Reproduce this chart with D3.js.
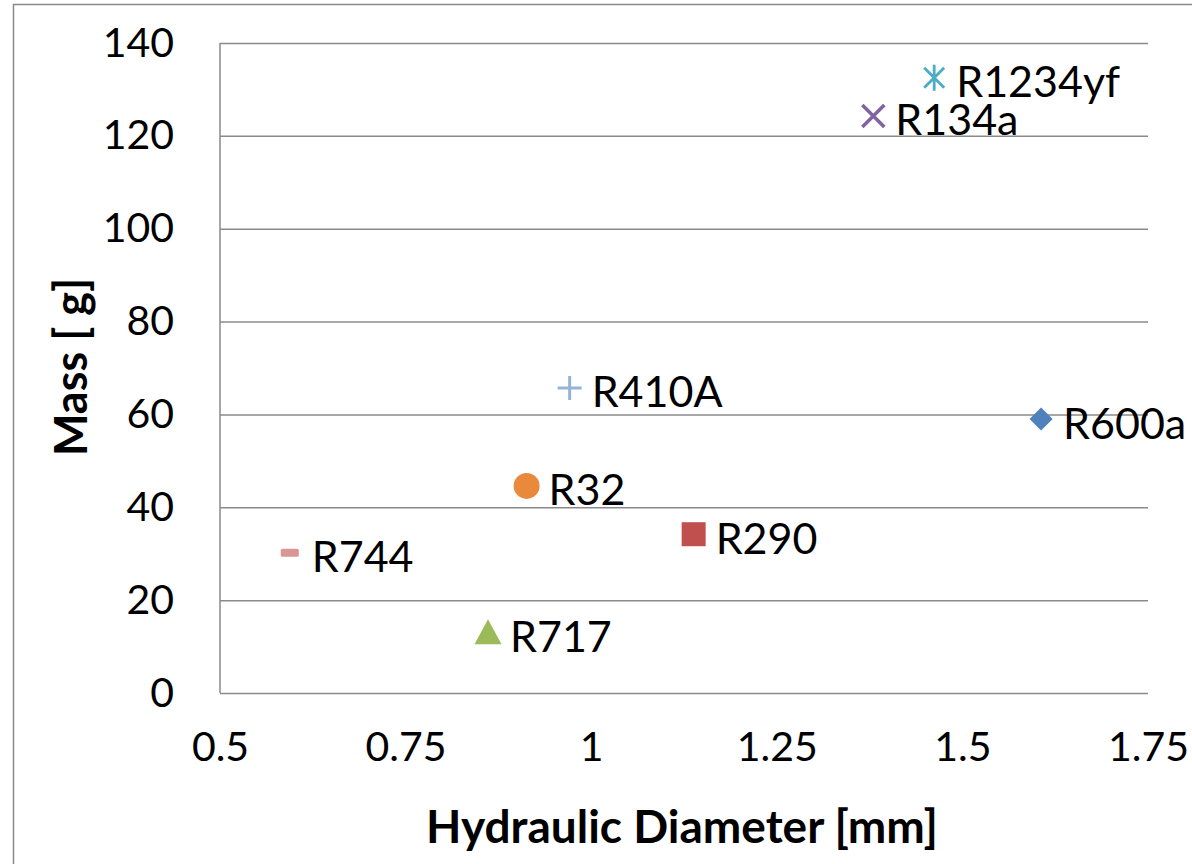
<!DOCTYPE html>
<html>
<head>
<meta charset="utf-8">
<script src="https://cdn.jsdelivr.net/npm/d3@7"></script>
<style>
  html, body { margin: 0; padding: 0; background: #fff; }
  svg { display: block; font-family: Lato, "Open Sans", sans-serif; }
</style>
</head>
<body>
<svg id="chart" width="1192" height="864"></svg>
<script>
// Refrigerant charge versus hydraulic diameter
const refrigerants = ["R600a", "R290", "R717", "R134a", "R1234yf", "R32", "R410A", "R744"];
const diameters    = [1.606, 1.138, 0.861, 1.380, 1.462, 0.913, 0.971, 0.594];
const masses       = [59.0, 34.2, 13.1, 124.3, 132.5, 44.6, 65.7, 30.2];
const markerShapes = ["diamond", "square", "triangle", "cross", "star", "circle", "plus", "dash"];
const markerColors = ["#4F81BD", "#C0504D", "#9BBB59", "#8064A2", "#4BACC6", "#E9893C", "#95B3D7", "#D99694"];
const xTicks = [0.5, 0.75, 1, 1.25, 1.5, 1.75];
const yTicks = [0, 20, 40, 60, 80, 100, 120, 140];
const xTitle = "Hydraulic Diameter [mm]";
const yTitle = "Mass [  g]";

const svg = d3.select("#chart");
const plot = { left: 220, right: 1148, top: 43, bottom: 693 };

const x = d3.scaleLinear().domain([0.5, 1.75]).range([plot.left, plot.right]);
const y = d3.scaleLinear().domain([0, 140]).range([plot.bottom, plot.top]);

// outer chart frame
svg.append("rect")
  .attr("x", 13.5).attr("y", 4.5)
  .attr("width", 1200).attr("height", 900)
  .attr("fill", "none").attr("stroke", "#8a8a8a").attr("stroke-width", 1.5);

// horizontal gridlines
const yAxis = d3.axisLeft(y).tickValues(yTicks)
  .tickSize(-(plot.right - plot.left)).tickPadding(46).tickFormat(d3.format("d"));
const gy = svg.append("g").attr("transform", `translate(${plot.left},0)`).call(yAxis);
gy.select(".domain").remove();
gy.selectAll(".tick line").attr("stroke", "#8a8a8a").attr("stroke-width", 1.5);
gy.selectAll(".tick text").attr("font-size", 41).attr("fill", "#000").attr("font-family", "Lato, sans-serif");

// x axis labels (no tick marks)
const xAxis = d3.axisBottom(x).tickValues(xTicks).tickSize(0).tickPadding(0)
  .tickFormat(d => String(d));
const gx = svg.append("g").attr("transform", `translate(0,${plot.bottom + 54})`).call(xAxis);
gx.select(".domain").remove();
gx.selectAll(".tick text").attr("font-size", 41).attr("fill", "#000").attr("dy", "0.35em")
  .attr("font-family", "Lato, sans-serif");

// plot-area left edge
svg.append("line")
  .attr("x1", plot.left).attr("x2", plot.left)
  .attr("y1", y(140)).attr("y2", y(0))
  .attr("stroke", "#8a8a8a").attr("stroke-width", 1.5);

// axis titles
svg.append("text")
  .attr("x", (plot.left + plot.right) / 2 - 2).attr("y", 825)
  .attr("text-anchor", "middle").attr("dominant-baseline", "central")
  .attr("font-size", 46).attr("font-weight", "bold").attr("fill", "#000")
  .text(xTitle);

svg.append("text")
  .attr("transform", `translate(70,${(y(0) + y(140)) / 2 - 1}) rotate(-90)`)
  .attr("text-anchor", "middle").attr("dominant-baseline", "central")
  .attr("font-size", 45).attr("font-weight", "bold").attr("fill", "#000")
  .text(yTitle);

// marker drawing
function drawMarker(g, shape, color) {
  switch (shape) {
    case "diamond":
      g.append("path").attr("d", d3.symbol(d3.symbolDiamond2, 340)()).attr("fill", color);
      break;
    case "square":
      g.append("rect").attr("x", -12).attr("y", -12).attr("width", 24).attr("height", 24).attr("fill", color);
      break;
    case "triangle":
      g.append("path").attr("d", "M0,-13L13.5,12L-13.5,12Z").attr("fill", color);
      break;
    case "circle":
      g.append("circle").attr("r", 13).attr("fill", color);
      break;
    case "cross":
      g.append("path").attr("d", "M-11,-11L11,11M-11,11L11,-11")
        .attr("stroke", color).attr("stroke-width", 3.5).attr("fill", "none");
      break;
    case "star":
      g.append("path").attr("d", "M-10,-10L10,10M-10,10L10,-10M0,-13L0,13")
        .attr("stroke", color).attr("stroke-width", 2.8).attr("fill", "none");
      break;
    case "plus":
      g.append("path").attr("d", "M-12,0L12,0M0,-12L0,12")
        .attr("stroke", color).attr("stroke-width", 3).attr("fill", "none");
      break;
    case "dash":
      g.append("rect").attr("x", -9).attr("y", -4).attr("width", 18).attr("height", 8)
        .attr("rx", 1.5).attr("fill", color);
      break;
  }
}

const points = refrigerants.map((name, i) => ({
  name, d: diameters[i], m: masses[i], shape: markerShapes[i], color: markerColors[i]
}));

const pg = svg.selectAll("g.pt").data(points).join("g")
  .attr("class", "pt")
  .attr("transform", p => `translate(${x(p.d)},${y(p.m)})`);

pg.each(function (p) { drawMarker(d3.select(this), p.shape, p.color); });

pg.append("text")
  .attr("x", 22).attr("y", 3)
  .attr("dominant-baseline", "central")
  .attr("font-size", 43).attr("fill", "#000")
  .text(p => p.name);
</script>
</body>
</html>
